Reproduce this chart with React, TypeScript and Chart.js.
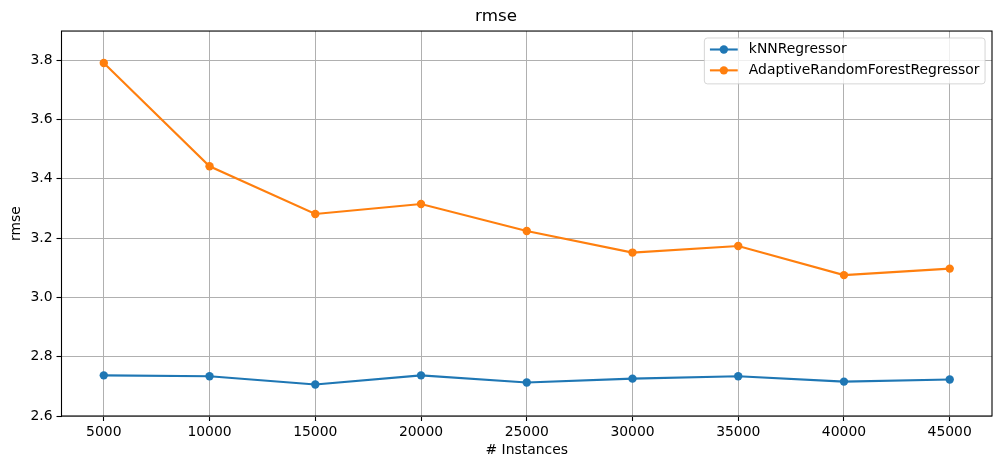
import { useEffect, useRef } from "react"
import { Chart, registerables } from "chart.js"

Chart.register(...registerables)

const instances = [5000, 10000, 15000, 20000, 25000, 30000, 35000, 40000, 45000]
const knnRmse = [2.737, 2.734, 2.706, 2.737, 2.713, 2.726, 2.734, 2.716, 2.723]
const arfRmse = [3.79, 3.442, 3.281, 3.315, 3.224, 3.151, 3.173, 3.075, 3.097]
const xTicks = [5000, 10000, 15000, 20000, 25000, 30000, 35000, 40000, 45000]
const yTicks = [2.6, 2.8, 3.0, 3.2, 3.4, 3.6, 3.8]
const seriesNames = ["kNNRegressor", "AdaptiveRandomForestRegressor"]
const seriesColors = ["#1f77b4", "#ff7f0e"]

const FONT = '"DejaVu Sans", sans-serif'
const LABEL_SIZE = 13.9

// matplotlib-style box around the axes
const spinePlugin = {
  id: "spines",
  afterDatasetsDraw(chart: Chart) {
    const { ctx, chartArea } = chart
    ctx.save()
    ctx.strokeStyle = "#000"
    ctx.lineWidth = 1.1
    ctx.strokeRect(chartArea.left, chartArea.top, chartArea.right - chartArea.left, chartArea.bottom - chartArea.top)
    ctx.restore()
  },
}

// legend drawn inside the plot, upper right, like matplotlib
const legendPlugin = {
  id: "mplLegend",
  afterDraw(chart: Chart) {
    const { ctx, chartArea } = chart
    const fs = LABEL_SIZE
    ctx.save()
    ctx.font = `${fs}px ${FONT}`
    const textW = Math.max(...seriesNames.map((n) => ctx.measureText(n).width))
    const pad = 0.4 * fs
    const handleLen = 2 * fs
    const handlePad = 0.8 * fs
    const spacing = 0.5 * fs
    const w = pad * 2 + handleLen + handlePad + textW
    const h = pad * 2 + seriesNames.length * fs + (seriesNames.length - 1) * spacing
    const right = chartArea.right - 0.5 * fs
    const top = chartArea.top + 0.5 * fs
    const left = right - w

    ctx.beginPath()
    ctx.roundRect(left, top, w, h, 3)
    ctx.fillStyle = "rgba(255,255,255,0.8)"
    ctx.fill()
    ctx.strokeStyle = "rgba(204,204,204,0.8)"
    ctx.lineWidth = 1
    ctx.stroke()

    seriesNames.forEach((name, i) => {
      const cy = top + pad + fs / 2 + i * (fs + spacing) - 1
      const x0 = left + pad
      ctx.strokeStyle = seriesColors[i]
      ctx.lineWidth = 2.1
      ctx.beginPath()
      ctx.moveTo(x0, cy)
      ctx.lineTo(x0 + handleLen, cy)
      ctx.stroke()
      ctx.fillStyle = seriesColors[i]
      ctx.beginPath()
      ctx.arc(x0 + handleLen / 2, cy, 4.2, 0, Math.PI * 2)
      ctx.fill()
      ctx.fillStyle = "#000"
      ctx.textBaseline = "middle"
      ctx.textAlign = "left"
      ctx.fillText(name, x0 + handleLen + handlePad, cy)
    })
    ctx.restore()
  },
}

export default function App() {
  const chartRef = useRef<HTMLCanvasElement>(null)
  const chartInstance = useRef<Chart | null>(null)

  useEffect(() => {
    if (!chartRef.current) return
    if (chartInstance.current) chartInstance.current.destroy()
    const ctx = chartRef.current.getContext("2d")
    if (!ctx) return

    Chart.defaults.font.family = FONT
    Chart.defaults.color = "#000"

    const series = [knnRmse, arfRmse]

    chartInstance.current = new Chart(ctx, {
      type: "line",
      data: {
        datasets: series.map((vals, i) => ({
          label: seriesNames[i],
          data: instances.map((x, j) => ({ x, y: vals[j] })),
          borderColor: seriesColors[i],
          backgroundColor: seriesColors[i],
          pointBackgroundColor: seriesColors[i],
          pointBorderColor: seriesColors[i],
          pointRadius: 4.2,
          pointBorderWidth: 0,
          borderWidth: 2.1,
          tension: 0,
        })),
      },
      options: {
        responsive: false,
        animation: false,
        devicePixelRatio: 1,
        layout: { padding: { top: 0, right: 9, bottom: 0, left: 0 } },
        plugins: {
          legend: { display: false },
          tooltip: { enabled: false },
          title: {
            display: true,
            text: "rmse",
            color: "#000",
            font: { size: 16.7, weight: "normal", family: FONT },
            padding: { top: 7, bottom: 4 },
          },
        },
        scales: {
          x: {
            type: "linear",
            min: 3000,
            max: 47000,
            offset: false,
            afterBuildTicks: (scale: any) => {
              scale.ticks = xTicks.map((v) => ({ value: v }))
            },
            afterFit: (scale: any) => {
              scale.height = 53
            },
            ticks: {
              color: "#000",
              font: { size: LABEL_SIZE },
              padding: 3,
              maxRotation: 0,
              autoSkip: false,
              callback: (v: any) => String(v),
            },
            grid: {
              color: "#b0b0b0",
              lineWidth: 1,
              drawTicks: true,
              tickLength: 5,
              tickColor: "#000",
              tickWidth: 1.1,
            },
            border: { display: false },
            title: {
              display: true,
              text: "# Instances",
              color: "#000",
              font: { size: LABEL_SIZE },
              padding: { top: 0, bottom: 10 },
            },
          },
          y: {
            type: "linear",
            min: 2.6,
            max: 3.898,
            afterBuildTicks: (scale: any) => {
              scale.ticks = yTicks.map((v) => ({ value: v }))
            },
            afterFit: (scale: any) => {
              scale.width = 61.5
            },
            ticks: {
              color: "#000",
              font: { size: LABEL_SIZE },
              padding: 4,
              autoSkip: false,
              callback: (v: any) => Number(v).toFixed(1),
            },
            grid: {
              color: "#b0b0b0",
              lineWidth: 1,
              drawTicks: true,
              tickLength: 5,
              tickColor: "#000",
              tickWidth: 1.1,
            },
            border: { display: false },
            title: {
              display: true,
              text: "rmse",
              color: "#000",
              font: { size: LABEL_SIZE },
              padding: { top: 8, bottom: 0 },
            },
          },
        },
      },
      plugins: [spinePlugin, legendPlugin],
    })

    return () => {
      if (chartInstance.current) {
        chartInstance.current.destroy()
        chartInstance.current = null
      }
    }
  }, [])

  return (
    <div style={{ position: "fixed", left: 0, top: 0, width: 1001, height: 469, background: "#fff" }}>
      <canvas ref={chartRef} width={1001} height={469} aria-label="rmse chart"></canvas>
    </div>
  )
}
